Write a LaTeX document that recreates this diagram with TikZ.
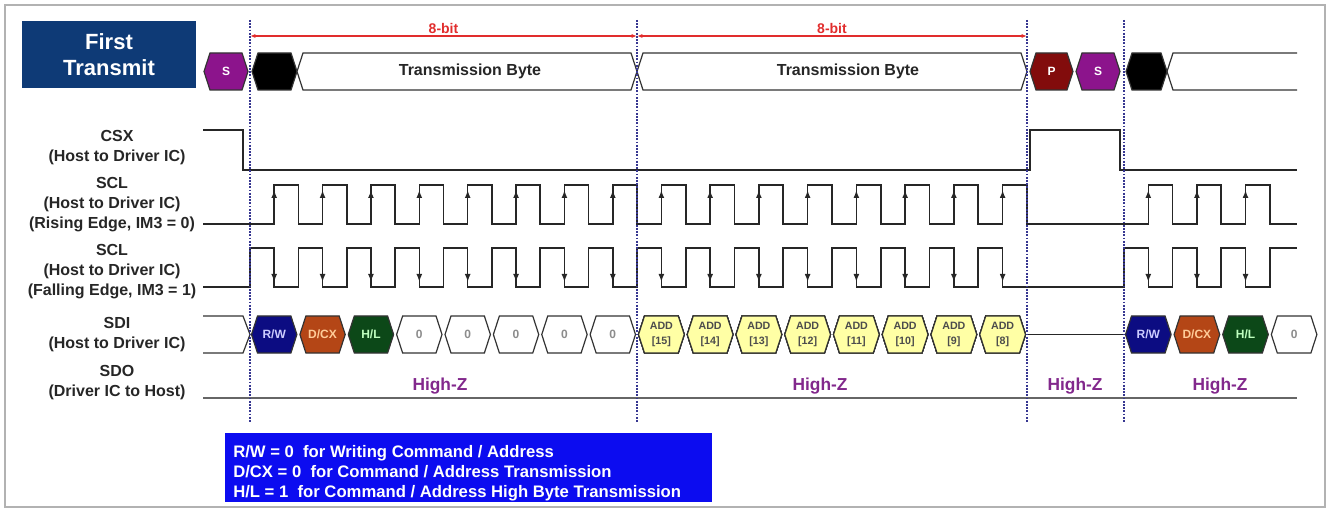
\documentclass[tikz,border=0pt]{standalone}
\usepackage{fontspec}
\setmainfont{Liberation Sans}
\usetikzlibrary{arrows.meta}

\definecolor{titleblue}{RGB}{14,58,118}
\definecolor{sviolet}{RGB}{140,20,140}
\definecolor{pred}{RGB}{130,12,12}
\definecolor{rwblue}{RGB}{12,12,130}
\definecolor{dcxbrown}{RGB}{180,70,22}
\definecolor{hlgreen}{RGB}{12,72,24}
\definecolor{addyellow}{RGB}{255,255,165}
\definecolor{hizpurple}{RGB}{130,40,140}
\definecolor{boxblue}{RGB}{12,12,240}
\definecolor{bitred}{RGB}{225,45,45}
\definecolor{dotblue}{RGB}{55,55,145}

% one hexagonal cell of a bus: name, left x, right x, mid y, fill, text style, text
\newcommand{\hexcell}[7]{%
  \filldraw[cellline, fill=#5] ({#2},{#4}) -- ({#2+6},{#4-18.5}) -- ({#3-6},{#4-18.5})
    -- ({#3},{#4}) -- ({#3-6},{#4+18.5}) -- ({#2+6},{#4+18.5}) -- cycle;
  \node[#6] (#1) at ({(#2+#3)/2},{#4}) {#7};
}

\begin{document}
\begin{tikzpicture}[x=0.75pt, y=-0.75pt,
    sig/.style={line width=1.2pt, draw=black!85},
    cellline/.style={line width=0.9pt, draw=black!80},
    edgetip/.style={-{Latex[length=6pt,width=4.5pt]}, line width=1.2pt, draw=black!85},
    boundary/.style={draw=dotblue, line width=1.4pt, dash pattern=on 1.3pt off 1.1pt},
    lbl/.style={font=\fontsize{12}{15}\selectfont\bfseries, align=center, text=black!85},
    celltxt/.style={font=\fontsize{9}{11}\selectfont\bfseries, align=center, inner sep=0pt},
    addtxt/.style={font=\fontsize{8}{11}\selectfont\bfseries, text=black!70, align=center, inner sep=0pt},
    bytetxt/.style={font=\fontsize{12}{14}\selectfont\bfseries, text=black!85},
    hiz/.style={font=\fontsize{13}{15}\selectfont\bfseries, text=hizpurple}]
    \useasboundingbox (0,0) rectangle (1330,509);
    % Frame
    \draw[gray!60, line width=1pt] (5,5) rectangle (1325,507);
    % Title box
    \fill[titleblue] (22,21) rectangle (196,88);
    \node[font=\fontsize{16.5}{19.5}\selectfont\bfseries, text=white, align=center] (title) at (109,54.5) {First\\Transmit};

    % Signal names
    \node[lbl] (csx) at (117,148) {CSX\\(Host to Driver IC)};
    \node[lbl] (sclr) at (112,205) {SCL\\(Host to Driver IC)\\(Rising Edge, IM3 = 0)};
    \node[lbl] (sclf) at (112,272) {SCL\\(Host to Driver IC)\\(Falling Edge, IM3 = 1)};
    \node[lbl] (sdi) at (117,335) {SDI\\(Host to Driver IC)};
    \node[lbl] (sdo) at (117,383) {SDO\\(Driver IC to Host)};

    % Top row: start, bytes, stop
    \hexcell{sA}{204}{248}{71.5}{sviolet}{celltxt, text=white}{S}
    \hexcell{kA}{252}{297}{71.5}{black}{celltxt}{}
    \hexcell{byteA}{297}{637}{71.5}{white}{celltxt}{}
    \hexcell{byteB}{637}{1027}{71.5}{white}{celltxt}{}
    \node[bytetxt] (txtA) at (470,71.5) {Transmission Byte};
    \node[bytetxt] (txtB) at (848,71.5) {Transmission Byte};
    \hexcell{pA}{1030}{1073}{71.5}{pred}{celltxt, text=white}{P}
    \hexcell{sB}{1076}{1120}{71.5}{sviolet}{celltxt, text=white}{S}
    \hexcell{kB}{1126}{1167}{71.5}{black}{celltxt}{}
    \draw[cellline] (1297,53) -- (1173,53) -- (1167,71.5) -- (1173,90) -- (1297,90);

    % CSX
    \draw[sig] (203,130) -- (243,130) -- (243,170) -- (1030,170) -- (1030,130)
      -- (1120,130) -- (1120,170) -- (1297,170);

    % SCL, rising edge
    \draw[sig] (203,224)
      \foreach \i in {0,...,7} { -- ({250+(\i+0.5)*48.375},224) -- ({250+(\i+0.5)*48.375},185)
        -- ({250+(\i+1)*48.375},185) -- ({250+(\i+1)*48.375},224) }
      \foreach \i in {0,...,7} { -- ({637+(\i+0.5)*48.75},224) -- ({637+(\i+0.5)*48.75},185)
        -- ({637+(\i+1)*48.75},185) -- ({637+(\i+1)*48.75},224) }
      \foreach \i in {0,...,2} { -- ({1124+(\i+0.5)*48.6},224) -- ({1124+(\i+0.5)*48.6},185)
        -- ({1124+(\i+1)*48.6},185) -- ({1124+(\i+1)*48.6},224) }
      -- (1297,224);
    \foreach \b/\p/\n in {250/48.375/7, 637/48.75/7, 1124/48.6/2}
      \foreach \i in {0,...,\n}
        \draw[edgetip] ({\b+(\i+0.5)*\p},206) -- ({\b+(\i+0.5)*\p},190);

    % SCL, falling edge
    \draw[sig] (203,287) -- (250,287)
      \foreach \i in {0,...,7} { -- ({250+\i*48.375},287) -- ({250+\i*48.375},248)
        -- ({250+(\i+0.5)*48.375},248) -- ({250+(\i+0.5)*48.375},287) }
      \foreach \i in {0,...,7} { -- ({637+\i*48.75},287) -- ({637+\i*48.75},248)
        -- ({637+(\i+0.5)*48.75},248) -- ({637+(\i+0.5)*48.75},287) }
      -- (1124,287)
      \foreach \i in {0,...,2} { -- ({1124+\i*48.6},287) -- ({1124+\i*48.6},248)
        -- ({1124+(\i+0.5)*48.6},248) -- ({1124+(\i+0.5)*48.6},287) }
      -- (1269.8,287) -- (1269.8,248) -- (1297,248);
    \foreach \b/\p/\n in {250/48.375/7, 637/48.75/7, 1124/48.6/2}
      \foreach \i in {0,...,\n}
        \draw[edgetip] ({\b+(\i+0.5)*\p},266) -- ({\b+(\i+0.5)*\p},282);

    % SDI
    \draw[cellline] (203,316) -- (243,316) -- (250,334.5) -- (243,353) -- (203,353);
    \hexcell{rwA}{251.5}{296.9}{334.5}{rwblue}{celltxt, text=white!80!blue}{R/W}
    \hexcell{dcxA}{299.9}{345.2}{334.5}{dcxbrown}{celltxt, text=orange!40!white}{D/CX}
    \hexcell{hlA}{348.3}{393.6}{334.5}{hlgreen}{celltxt, text=white!75!green}{H/L}
    \foreach \i in {3,...,7}
      \hexcell{zA\i}{250+\i*48.375+1.5}{250+(\i+1)*48.375-1.5}{334.5}{white}{celltxt, text=black!45}{0}
    \foreach \n [count=\i from 0] in {15,14,13,12,11,10,9,8}
      \hexcell{add\n}{637+\i*48.75+1.5}{637+(\i+1)*48.75-1.5}{334.5}{addyellow}{addtxt}{ADD\\{}[\n]}
    \draw[sig] (1026,334.5) -- (1126,334.5);
    \hexcell{rwB}{1125.5}{1171.1}{334.5}{rwblue}{celltxt, text=white!80!blue}{R/W}
    \hexcell{dcxB}{1174.1}{1219.7}{334.5}{dcxbrown}{celltxt, text=orange!40!white}{D/CX}
    \hexcell{hlB}{1222.7}{1268.3}{334.5}{hlgreen}{celltxt, text=white!75!green}{H/L}
    \hexcell{zB}{1271.3}{1316.9}{334.5}{white}{celltxt, text=black!45}{0}

    % SDO
    \draw[line width=1.3pt, draw=black!60] (203,398) -- (1297,398);
    \node[hiz] (hzA) at (440,386) {High-Z};
    \node[hiz] (hzB) at (820,386) {High-Z};
    \node[hiz] (hzC) at (1075,386) {High-Z};
    \node[hiz] (hzD) at (1220,386) {High-Z};

    % Byte boundaries
    \foreach \x/\nm in {250/A, 637/B, 1027/C, 1124/D} {
      \coordinate (top\nm) at (\x,20);
      \coordinate (bot\nm) at (\x,422);
      \draw[boundary] (top\nm) -- (bot\nm);
    }
    % 8-bit spans
    \coordinate (rA) at (250,36);
    \coordinate (rB) at (637,36);
    \coordinate (rC) at (1027,36);
    \draw[{Latex[length=4pt,width=3pt]}-{Latex[length=4pt,width=3pt]}, bitred, line width=0.8pt] (rA) -- node[above=-2pt, font=\fontsize{10.5}{13}\selectfont\bfseries] (bitA) {8-bit} (rB);
    \draw[{Latex[length=4pt,width=3pt]}-{Latex[length=4pt,width=3pt]}, bitred, line width=0.8pt] (rB) -- node[above=-2pt, font=\fontsize{10.5}{13}\selectfont\bfseries] (bitB) {8-bit} (rC);

    % Note box
    \fill[boxblue] (225,433) rectangle (712,502);
    \node[anchor=north west, inner sep=0pt, align=left, text=white, font=\fontsize{12.5}{15}\selectfont\bfseries] (note) at (233,445)
      {R/W = 0~ for Writing Command / Address\\D/CX = 0~ for Command / Address Transmission\\H/L = 1~ for Command / Address High Byte Transmission};
\end{tikzpicture}
\end{document}
